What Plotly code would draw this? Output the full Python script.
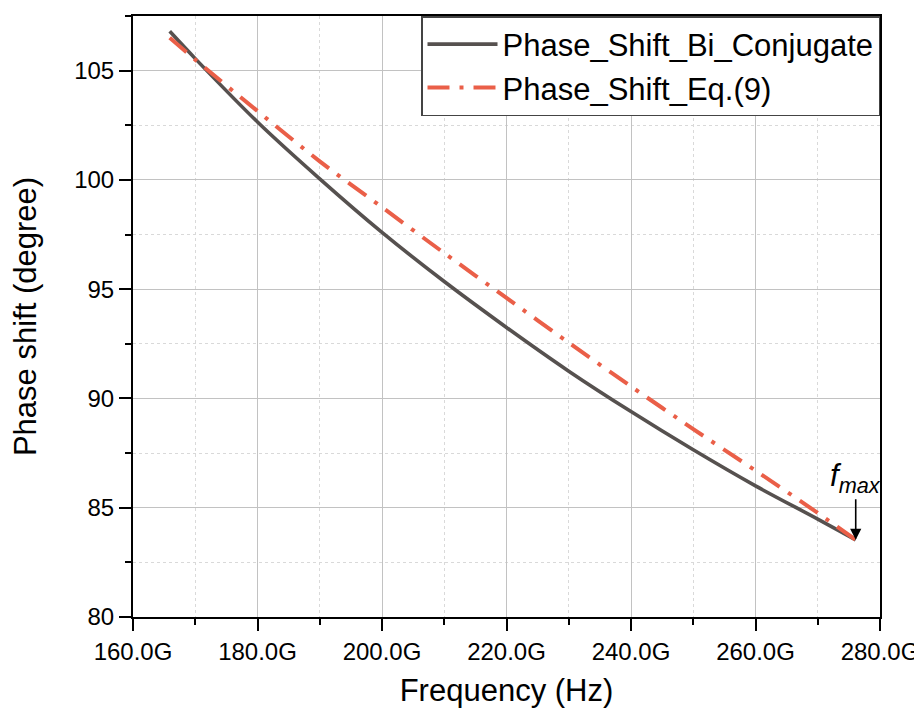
import plotly.graph_objects as go

# Frequency in GHz
freq_bi = [165.9, 170, 180, 190, 200, 210, 220, 230, 240, 250, 260, 270, 276.1]
phase_bi = [106.8, 105.55, 102.65, 100.05, 97.6, 95.35, 93.25, 91.25, 89.4, 87.65, 86.0, 84.48, 83.53]

freq_eq = [165.9, 170, 180, 190, 200, 210, 220, 230, 240, 250, 260, 270, 276.1]
phase_eq = [106.5, 105.5, 103.15, 100.85, 98.75, 96.65, 94.6, 92.55, 90.55, 88.6, 86.7, 84.76, 83.53]

name_bi = "Phase_Shift_Bi_Conjugate"
name_eq = "Phase_Shift_Eq.(9)"

fmax_freq = 276.1
fmax_phase = 83.53

FONT = "Liberation Sans, Arial, sans-serif"

fig = go.Figure()
fig.add_trace(go.Scatter(
    x=freq_bi, y=phase_bi, mode="lines", name=name_bi,
    line=dict(color="#56514f", width=3.6, shape="spline", smoothing=0.8),
))
fig.add_trace(go.Scatter(
    x=freq_eq, y=phase_eq, mode="lines", name=name_eq,
    line=dict(color="#ea5f48", width=4, dash="22px,10px,4px,10px", shape="spline", smoothing=0.8),
))

fig.add_annotation(
    x=fmax_freq, y=fmax_phase, xref="x", yref="y",
    text="<i>f</i><sub><i>max</i></sub>",
    showarrow=True, ax=0, ay=-62, arrowhead=2, arrowsize=1.4, arrowwidth=1.6,
    arrowcolor="black", standoff=0,
    font=dict(family=FONT, size=31, color="black"),
)

axis_common = dict(
    showline=True, linecolor="black", linewidth=2, mirror=True,
    ticks="outside", ticklen=12, tickwidth=2, tickcolor="black",
    showgrid=True, gridcolor="#c2c2c2", gridwidth=1,
    zeroline=False,
    tickfont=dict(family=FONT, size=24, color="black"),
)

minor_common = dict(ticks="outside", ticklen=6, tickwidth=1.5, tickcolor="black",
                    showgrid=True, gridcolor="#d9d9d9", griddash="3px,3px", gridwidth=1)

fig.update_xaxes(
    **axis_common,
    range=[160, 280], dtick=20, tick0=160,
    tickformat=".1f", ticksuffix="G",
    minor=dict(dtick=10, tick0=160, **minor_common),
    title=dict(text="Frequency (Hz)", font=dict(family=FONT, size=31, color="black"), standoff=16),
)
fig.update_yaxes(
    **axis_common,
    range=[80, 107.5], dtick=5, tick0=80,
    minor=dict(dtick=2.5, tick0=80, **minor_common),
    title=dict(text="Phase shift (degree)", font=dict(family=FONT, size=31, color="black"), standoff=29),
)

fig.update_layout(
    width=922, height=711,
    margin=dict(l=125, r=50, t=8, b=102, autoexpand=False),
    paper_bgcolor="white", plot_bgcolor="white",
    font=dict(family=FONT, color="black"),
    legend=dict(
        x=1, xanchor="right", y=1, yanchor="top",
        bgcolor="white", bordercolor="#444444", borderwidth=1.5,
        font=dict(family=FONT, size=31, color="black"),
        itemwidth=70, tracegroupgap=0,
    ),
)

fig.write_html("out.html")
